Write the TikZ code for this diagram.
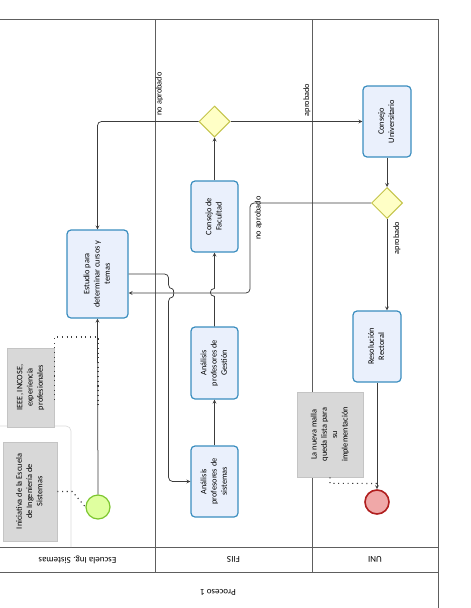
\documentclass[tikz,border=0pt]{standalone}
\usepackage{fontspec}
\setmainfont{Carlito}
\usetikzlibrary{shapes.geometric, arrows, positioning}
\definecolor{taskline}{HTML}{3A8DBF}
\definecolor{taskfill}{HTML}{EAF0FC}
\definecolor{gateline}{HTML}{C4C44A}
\definecolor{gatefill}{HTML}{FFFFC6}
\definecolor{startline}{HTML}{7CC62E}
\definecolor{startfill}{HTML}{DFFF9F}
\definecolor{endline}{HTML}{B01E1E}
\definecolor{endfill}{HTML}{F0A8A8}
\definecolor{notefill}{HTML}{D8D8D8}
\definecolor{noteline}{HTML}{C4C4C4}
\definecolor{laneline}{HTML}{5E5E5E}
\definecolor{flow}{HTML}{3C3C3C}
\tikzstyle{task} = [rectangle, rounded corners=4pt, draw=taskline, fill=taskfill, line width=1.2pt, font=\fontsize{8.3}{10.3}\selectfont, inner sep=0pt]
\tikzstyle{gate} = [diamond, draw=gateline, fill=gatefill, line width=1pt, minimum size=31pt, inner sep=0pt]
\tikzstyle{note} = [rectangle, draw=noteline, fill=notefill, line width=0.6pt, font=\fontsize{8.3}{10.3}\selectfont, inner sep=0pt]
\tikzstyle{arrow} = [draw=flow, line width=0.75pt, ->, >=stealth]
\tikzstyle{assoc} = [draw=flow, line width=1.1pt, dash pattern=on 1.1pt off 3.6pt]
\tikzstyle{lbl} = [font=\fontsize{8.3}{10}\selectfont, rotate=90, inner sep=0pt]
\tikzstyle{lane} = [draw=laneline, line width=0.8pt]
\tikzstyle{lanetitle} = [rotate=180, font=\fontsize{9}{11}\selectfont]
\newcommand{\vtxt}[1]{\rotatebox{90}{\begin{tabular}{@{}c@{}}#1\end{tabular}}}

\begin{document}
\begin{tikzpicture}[x=1pt, y=-1pt]
\useasboundingbox (0,0) rectangle (471,608);
\clip (0,0) rectangle (471,608);

% pool and lanes
\draw[lane] (-2,19) -- (438,19) -- (438,612);
\draw[lane] (-2,547) -- (438,547);
\draw[lane] (-2,572) -- (438,572);
\draw[lane] (155,19) -- (155,572);
\draw[lane] (312,19) -- (312,572);
\node[lanetitle] (laneEscuela) at (77.5,559.5) {Escuela Ing. Sistemas};
\node[lanetitle] (laneFIIS) at (233.5,559.5) {FIIS};
\node[lanetitle] (laneUNI) at (375,559.5) {UNI};
\node[lanetitle] (pool) at (218,592) {Proceso 1};
\draw[draw=black!15, line width=0.6pt, rounded corners=5pt] (-2,426) -- (71,426) -- (71,547);

% tasks
\node[task, minimum width=61pt, minimum height=88pt] (estudio) at (97.5,274) {\vtxt{Estudio para\\determinar cursos y\\temas}};
\node[task, minimum width=47pt, minimum height=71pt] (cfac) at (214.5,216.5) {\vtxt{Consejo de\\Facultad}};
\node[task, minimum width=47pt, minimum height=72pt] (gestion) at (214.5,363) {\vtxt{Análisis\\profesores de\\Gestión}};
\node[task, minimum width=47pt, minimum height=71pt] (sistemas) at (214.5,481.5) {\vtxt{Análisis\\profesores de\\sistemas}};
\node[task, minimum width=48pt, minimum height=71pt] (cuni) at (387,121.5) {\vtxt{Consejo\\Universitario}};
\node[task, minimum width=48pt, minimum height=71pt] (rector) at (377,346.5) {\vtxt{Resolución\\Rectoral}};

% gateways and events
\node[gate] (gw1) at (214.5,121.5) {};
\node[gate] (gw2) at (387,203) {};
\node[circle, draw=startline, fill=startfill, line width=1.2pt, minimum size=24pt, inner sep=0pt] (inicio) at (98,507) {};
\node[circle, draw=endline, fill=endfill, line width=1.6pt, minimum size=24pt, inner sep=0pt] (fin) at (377,502) {};

% annotations
\node[note, minimum width=54pt, minimum height=99pt] (nota1) at (30,491.5) {\vtxt{Iniciativa de la Escuela\\de Ingeniería de\\Sistemas}};
\node[note, minimum width=47pt, minimum height=79pt] (nota2) at (30.5,387.5) {\vtxt{IEEE, INCOSE,\\experiencia\\profesionales}};
\node[note, minimum width=66pt, minimum height=85pt] (nota3) at (330,434.5) {\vtxt{La nueva malla\\queda lista para\\su\\implementación}};

% sequence flows
\draw[arrow] (inicio.north) -- (estudio.south);
\draw[arrow, rounded corners=4pt] (estudio.east) -- ++(40,0) -- ++(0,15) .. controls +(5.5,0) and +(5.5,0) .. ++(0,8) |- (sistemas.west);
\draw[arrow] (sistemas.north) -- (gestion.south);
\draw[arrow] (gestion.north) -- ++(0,-30) .. controls +(-5.5,0) and +(-5.5,0) .. ++(0,-8) -- (cfac.south);
\draw[arrow] (cfac.north) -- (gw1.south);
\draw[arrow, rounded corners=4pt] (gw1.west) -| (estudio.north);
\draw[arrow] (gw1.east) -- (cuni.west);
\draw[arrow] (cuni.south) -- (gw2.north);
\draw[arrow] (gw2.south) -- (gw2.south |- rector.north);
\draw[arrow, rounded corners=4pt] (gw2.west) -- (250,203) -- (250,293) -- ([yshift=-19pt]estudio.east);
\draw[arrow] (rector.south) -- (fin.north);
\node[lbl] (lblNo1) at (159.5,94) {no aprobado};
\node[lbl] (lblSi1) at (307,100) {aprobado};
\node[lbl] (lblNo2) at (258.5,218) {no aprobado};
\node[lbl] (lblSi2) at (397,238) {aprobado};

% associations
\draw[assoc] (nota1.east) -- ++(15,0) -- (inicio.west);
\draw[assoc] (nota2.east |- 0,400) -- (nota2.east |- 0,337) -- (inicio |- 0,337) -- (inicio |- 0,407);
\draw[assoc] (nota3.south) -- ++(0,6) -- (fin.north |- 0,483.5);
\end{tikzpicture}
\end{document}
